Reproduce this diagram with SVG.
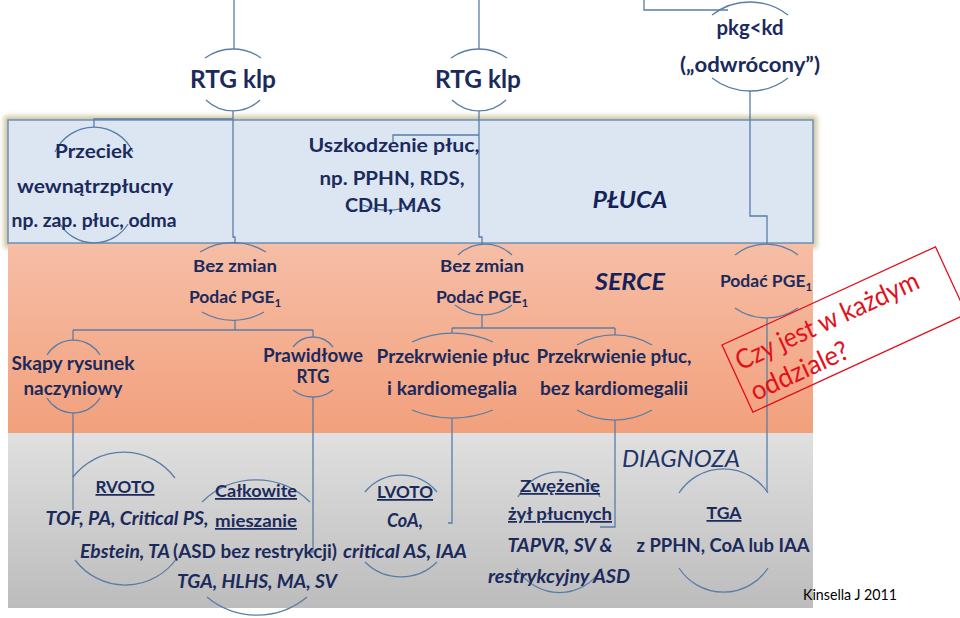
<svg xmlns="http://www.w3.org/2000/svg" width="960" height="618" viewBox="0 0 960 618">
<defs>
<linearGradient id="gOr" x1="0" y1="0" x2="0" y2="1"><stop offset="0" stop-color="#f6bea6"/><stop offset="1" stop-color="#f2a07c"/></linearGradient>
<linearGradient id="gGr" x1="0" y1="0" x2="0" y2="1"><stop offset="0" stop-color="#e0e0e0"/><stop offset="1" stop-color="#bcbcbc"/></linearGradient>
<filter id="blur" x="-5%" y="-20%" width="110%" height="140%"><feGaussianBlur stdDeviation="2.5"/></filter>
</defs>
<style>
text{font-family:Lato,"Open Sans","Liberation Sans",sans-serif;fill:#1b2a5c;font-weight:700;text-anchor:middle}
.c,.a{fill:none;stroke:#5a7da6;stroke-width:1.3}
.i{font-style:italic}
.u{text-decoration:underline}
.h{font-size:23px;font-style:italic;fill:#13235a}
.s{font-size:17.5px}
.m{font-size:18px}
.b{font-size:18.5px}
.n{font-weight:400}
.k{fill:#000000}
.r{fill:#e3101b;font-weight:400;font-size:27px;text-anchor:start}
</style>
<rect x="0" y="0" width="960" height="618" fill="#ffffff"/>
<g id="bands">
<rect x="4" y="116" width="813" height="132" fill="#bdb37c" opacity="0.75" filter="url(#blur)"/>
<rect x="8" y="120" width="805" height="123" fill="#dce6f2" stroke="#6d8fba" stroke-width="1.5"/>
<rect x="8" y="244" width="805" height="189" fill="url(#gOr)"/>
<rect x="8" y="433" width="805" height="175" fill="url(#gGr)"/>
</g>
<g id="connectors">
<path class="c" d="M234 0V49"/>
<path class="c" d="M479 0V49"/>
<path class="c" d="M644 0V10H728"/>
<path class="c" d="M233 111V237H235V244M233 119H94V127"/>
<path class="c" d="M479 111V237H482V244M479 135H393V142"/>
<path class="c" d="M750 91V216H767V244"/>
<path class="c" d="M235 320V330M73 330H313M73 330V340M313 330V337"/>
<path class="c" d="M482 315V328M452 328H615M452 328V333M615 328V335"/>
<path class="c" d="M73 413V510"/>
<path class="c" d="M313 397V552H308"/>
<path class="c" d="M452 418V523H448"/>
<path class="c" d="M615 420V527H600"/>
<path class="c" d="M767 318V492"/>
</g>
<g id="rtg-left">
<path class="a" d="M205 58A48 48 0 0 1 261 58M206 100A39 39 0 0 0 260 100"/>
<text x="233" y="88" font-size="25" textLength="86" lengthAdjust="spacingAndGlyphs">RTG klp</text>
</g>
<g id="rtg-right">
<path class="a" d="M451 58A48 48 0 0 1 507 58M452 100A39 39 0 0 0 506 100"/>
<text x="478" y="88" font-size="25" textLength="86" lengthAdjust="spacingAndGlyphs">RTG klp</text>
</g>
<g id="pkg">
<path class="a" d="M712 15A62 62 0 0 1 788 15M712 78A62 62 0 0 0 788 78"/>
<text x="750" y="35" font-size="20.5" textLength="67" lengthAdjust="spacingAndGlyphs">pkg&lt;kd</text>
<text x="750" y="72" font-size="20.5" textLength="140" lengthAdjust="spacingAndGlyphs">(„odwrócony”)</text>
</g>
<g id="przeciek">
<path class="a" d="M55 152A43 43 0 0 1 133 152M60 224A40 40 0 0 0 128 224"/>
<text class="b" x="94" y="158" textLength="78" lengthAdjust="spacingAndGlyphs">Przeciek</text>
<text class="b" x="95" y="193" textLength="156" lengthAdjust="spacingAndGlyphs">wewnątrzpłucny</text>
<text class="b" x="94" y="227" textLength="165" lengthAdjust="spacingAndGlyphs">np. zap. płuc, odma</text>
</g>
<g id="uszkodzenie">
<path class="a" d="M363 205A65 65 0 0 0 413 205"/>
<text class="b" x="394" y="152" textLength="171" lengthAdjust="spacingAndGlyphs">Uszkodzenie płuc,</text>
<text class="b" x="392" y="185" textLength="145" lengthAdjust="spacingAndGlyphs">np. PPHN, RDS,</text>
<text class="b" x="393" y="212" textLength="96" lengthAdjust="spacingAndGlyphs">CDH, MAS</text>
</g>
<g id="pluca"><text class="h" x="630" y="208" textLength="75" lengthAdjust="spacingAndGlyphs">PŁUCA</text></g>
<g id="bez-left">
<path class="a" d="M200 252A63 63 0 0 1 266 252M202 312A62 62 0 0 0 264 312"/>
<text class="s" x="235" y="272" textLength="84" lengthAdjust="spacingAndGlyphs">Bez zmian</text>
<text class="s" x="235" y="303">Podać PGE<tspan font-size="11.5" dy="4">1</tspan></text>
</g>
<g id="bez-right">
<path class="a" d="M458 255A39 39 0 0 1 512 255M455 305A46 46 0 0 0 512 305"/>
<text class="s" x="482" y="272" textLength="84" lengthAdjust="spacingAndGlyphs">Bez zmian</text>
<text class="s" x="482" y="303">Podać PGE<tspan font-size="11.5" dy="4">1</tspan></text>
</g>
<g id="serce"><text class="h" x="630" y="290" textLength="70" lengthAdjust="spacingAndGlyphs">SERCE</text></g>
<g id="pge-right">
<path class="a" d="M735 255A51 51 0 0 1 798 255M735 308A55 55 0 0 0 798 308"/>
<text class="s" x="766" y="287">Podać PGE<tspan font-size="11.5" dy="4">1</tspan></text>
</g>
<g id="skapy">
<path class="a" d="M47 355A31 31 0 0 1 100 355M47 398A31 31 0 0 0 100 398"/>
<text class="m" x="73" y="370" textLength="123" lengthAdjust="spacingAndGlyphs">Skąpy rysunek</text>
<text class="m" x="73" y="395" textLength="99" lengthAdjust="spacingAndGlyphs">naczyniowy</text>
</g>
<g id="prawidlowe">
<path class="a" d="M293 347A25 25 0 0 1 333 347M293 390A32 32 0 0 0 333 390"/>
<text class="m" x="313" y="362" textLength="100" lengthAdjust="spacingAndGlyphs">Prawidłowe</text>
<text class="m" x="313" y="383" textLength="33" lengthAdjust="spacingAndGlyphs">RTG</text>
</g>
<g id="przekrwienie-kardio">
<path class="a" d="M412 342A96 96 0 0 1 493 342M412 410A106 106 0 0 0 493 410"/>
<text class="m" x="453" y="363" textLength="153" lengthAdjust="spacingAndGlyphs">Przekrwienie płuc</text>
<text class="m" x="452" y="395" textLength="130" lengthAdjust="spacingAndGlyphs">i kardiomegalia</text>
</g>
<g id="przekrwienie-bez">
<path class="a" d="M577 345A75 75 0 0 1 652 345M577 410A75 75 0 0 0 652 410"/>
<text class="m" x="614" y="363" textLength="155" lengthAdjust="spacingAndGlyphs">Przekrwienie płuc,</text>
<text class="m" x="614" y="395" textLength="148" lengthAdjust="spacingAndGlyphs">bez kardiomegalii</text>
</g>
<g id="rvoto">
<path class="a" d="M73 477A64 64 0 0 1 175 478M75 560A63 63 0 0 0 177 558"/>
<text class="s u" x="125" y="493" textLength="59" lengthAdjust="spacingAndGlyphs">RVOTO</text>
<text class="m i" x="127" y="525" textLength="163" lengthAdjust="spacingAndGlyphs">TOF, PA, Critical PS,</text>
<text class="m i" x="125" y="558" textLength="90" lengthAdjust="spacingAndGlyphs">Ebstein, TA</text>
</g>
<g id="calkowite">
<path class="a" d="M202 502A77 77 0 0 1 310 502M207 597A78 78 0 0 0 307 597"/>
<text class="s u" x="256" y="497" textLength="82" lengthAdjust="spacingAndGlyphs">Całkowite</text>
<text class="s u" x="256" y="527" textLength="82" lengthAdjust="spacingAndGlyphs">mieszanie</text>
<text class="m" x="255" y="558" textLength="164" lengthAdjust="spacingAndGlyphs">(ASD bez restrykcji)</text>
<text class="m i" x="257" y="588" textLength="160" lengthAdjust="spacingAndGlyphs">TGA, HLHS, MA, SV</text>
</g>
<g id="lvoto">
<path class="a" d="M365 492A47 47 0 0 1 437 492M365 562A51 51 0 0 0 437 562"/>
<text class="s u" x="405" y="498" textLength="56" lengthAdjust="spacingAndGlyphs">LVOTO</text>
<text class="m i" x="405" y="527" textLength="36" lengthAdjust="spacingAndGlyphs">CoA,</text>
<text class="m i" x="405" y="558" textLength="124" lengthAdjust="spacingAndGlyphs">critical AS, IAA</text>
</g>
<g id="diagnoza"><text class="i n" x="681" y="467" font-size="23" textLength="118" lengthAdjust="spacingAndGlyphs" style="fill:#1f3468">DIAGNOZA</text></g>
<g id="zwezenie">
<path class="a" d="M518 497A46 46 0 0 1 600 497M517 568A49 49 0 0 0 602 568"/>
<text class="s u" x="560" y="492" textLength="80" lengthAdjust="spacingAndGlyphs">Zwężenie</text>
<text class="s u" x="560" y="520" textLength="104" lengthAdjust="spacingAndGlyphs">żył płucnych</text>
<text class="m i" x="560" y="552" textLength="105" lengthAdjust="spacingAndGlyphs">TAPVR, SV &amp;</text>
<text class="m i" x="559" y="583" textLength="142" lengthAdjust="spacingAndGlyphs">restrykcyjny ASD</text>
</g>
<g id="tga">
<path class="a" d="M679 493A53 53 0 0 1 768 493M679 568A53 53 0 0 0 768 568"/>
<text class="s u" x="724" y="519" textLength="35" lengthAdjust="spacingAndGlyphs">TGA</text>
<text class="m" x="723" y="552" textLength="173" lengthAdjust="spacingAndGlyphs">z PPHN, CoA lub IAA</text>
</g>
<g id="source"><text class="n k" x="850" y="600" font-size="15" textLength="94" lengthAdjust="spacingAndGlyphs">Kinsella J 2011</text></g>
<g id="stamp" transform="translate(722,345) rotate(-24.7)">
<rect x="0" y="0" width="235" height="74" fill="none" stroke="#e3101b" stroke-width="1.3"/>
<text class="r" x="6" y="31" textLength="199" lengthAdjust="spacingAndGlyphs">Czy jest w każdym</text>
<text class="r" x="7" y="65" textLength="105" lengthAdjust="spacingAndGlyphs">oddziale?</text>
</g>
</svg>
